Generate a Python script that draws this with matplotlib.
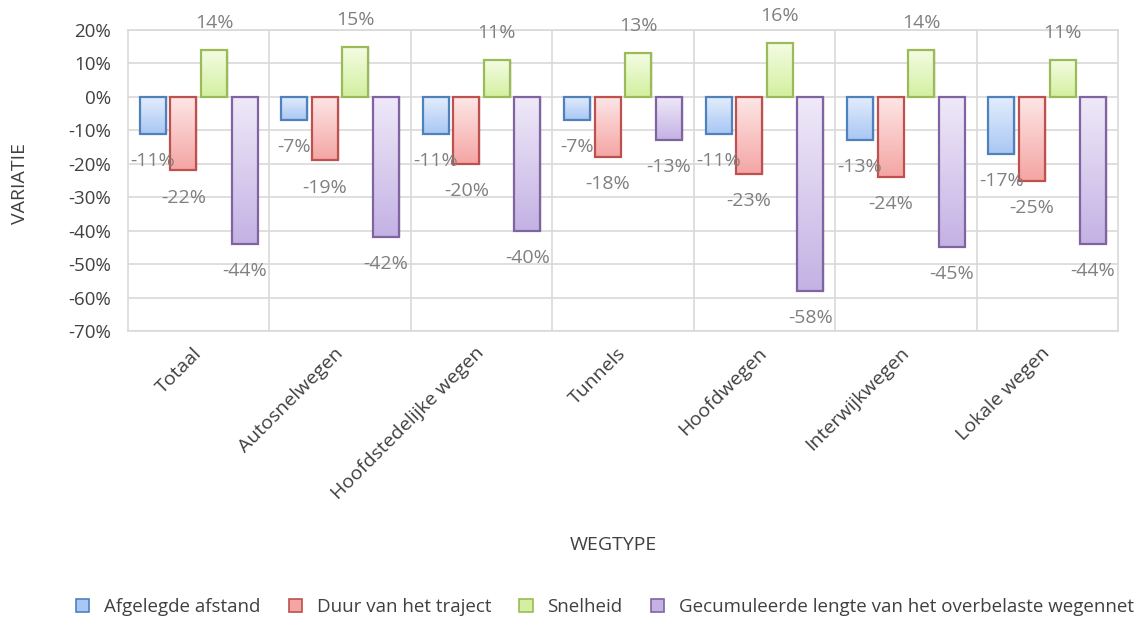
import numpy as np
import matplotlib
matplotlib.use("Agg")
import matplotlib.pyplot as plt
from matplotlib.patches import Patch
from matplotlib.colors import LinearSegmentedColormap

plt.rcParams['font.family'] = ['Open Sans', 'DejaVu Sans']

categories = ["Totaal", "Autosnelwegen", "Hoofdstedelijke wegen", "Tunnels",
              "Hoofdwegen", "Interwijkwegen", "Lokale wegen"]
series_names = ["Afgelegde afstand", "Duur van het traject", "Snelheid",
                "Gecumuleerde lengte van het overbelaste wegennet"]
afgelegde_afstand = [-11, -7, -11, -7, -11, -13, -17]
duur_traject = [-22, -19, -20, -18, -23, -24, -25]
snelheid = [14, 15, 11, 13, 16, 14, 11]
overbelast = [-44, -42, -40, -13, -58, -45, -44]
series_values = [afgelegde_afstand, duur_traject, snelheid, overbelast]
y_ticks = [20, 10, 0, -10, -20, -30, -40, -50, -60, -70]

# (edge, light top, darker bottom)
palette = [
    ("#4f81bd", "#e3edfc", "#a9c7f4"),
    ("#c0504d", "#fde6e6", "#f4a6a4"),
    ("#9bbb59", "#f4fce3", "#d3f0a0"),
    ("#8064a2", "#efe9f8", "#c4b2e4"),
]

fig = plt.figure(figsize=(11.46, 6.19), dpi=100)
ax = fig.add_axes([128 / 1146, 1 - 331 / 619, (1118 - 128) / 1146, (331 - 30) / 619])

n = len(series_values)
step = 0.216
width = 0.184
x = np.arange(len(categories))
ax.set_xlim(-0.5, len(categories) - 0.5)
ax.set_ylim(-70, 20)

for i, vals in enumerate(series_values):
    edge, top, bottom = palette[i]
    cmap = LinearSegmentedColormap.from_list(f"g{i}", [top, bottom])
    pos = x + (i - (n - 1) / 2) * step
    # soft drop shadow
    ax.bar(pos + 0.012, vals, width, bottom=0, color="#000000", alpha=0.07,
           linewidth=0, zorder=2)
    bars = ax.bar(pos, vals, width, facecolor="none", edgecolor=edge,
                  linewidth=1.6, zorder=4)
    for b, v in zip(bars, vals):
        x0 = b.get_x()
        x1 = x0 + b.get_width()
        y0, y1 = min(0, v), max(0, v)
        grad = np.linspace(0, 1, 64).reshape(-1, 1)
        im = ax.imshow(grad, extent=(x0, x1, y0, y1), cmap=cmap, aspect="auto",
                       origin="upper", zorder=3, interpolation="bilinear")
        im.set_clip_path(b)
        off = 19.5 if v > 0 else -19.5
        ax.annotate(f"{v}%", (b.get_x() + b.get_width() / 2, v),
                    xytext=(0, off), textcoords="offset points",
                    ha="center", va="center", fontsize=14, color="#808080",
                    zorder=6)

ax.set_xlim(-0.5, len(categories) - 0.5)
ax.set_ylim(-70, 20)

ax.set_yticks(y_ticks)
ax.set_yticklabels([f"{t}%" for t in y_ticks], fontsize=13.5, color="#404040")
ax.tick_params(axis="y", length=0, pad=12)

ax.set_xticks(x)
ax.set_xticklabels(categories, rotation=45, ha="right", va="center",
                   rotation_mode="anchor", fontsize=14, color="#404040")
ax.tick_params(axis="x", length=0, pad=14)

# grid: horizontal lines at each tick, vertical lines between categories
for t in y_ticks:
    ax.axhline(t, color="#d9d9d9", linewidth=1.2, zorder=1)
for b in np.arange(0.5, len(categories) - 0.5, 1):
    ax.axvline(b, color="#d9d9d9", linewidth=1.2, zorder=1)
for s in ax.spines.values():
    s.set_color("#d9d9d9")
    s.set_linewidth(1.2)

fig.text(20 / 1146, 1 - 183 / 619, "VARIATIE", rotation=90, ha="center",
         va="center", fontsize=14, color="#404040")
fig.text(613 / 1146, 1 - 545 / 619, "WEGTYPE", ha="center", va="center",
         fontsize=14, color="#404040")

handles = [Patch(facecolor=p[2], edgecolor=p[0], linewidth=1.2) for p in palette]
fig.legend(handles, series_names, loc="center", ncol=4, frameon=False,
           bbox_to_anchor=(605 / 1146, 1 - 607 / 619), fontsize=13.5,
           handlelength=0.7, handleheight=0.7, handletextpad=0.8,
           columnspacing=1.5, labelcolor="#404040")

fig.savefig("out.png", dpi=100, facecolor="white")
